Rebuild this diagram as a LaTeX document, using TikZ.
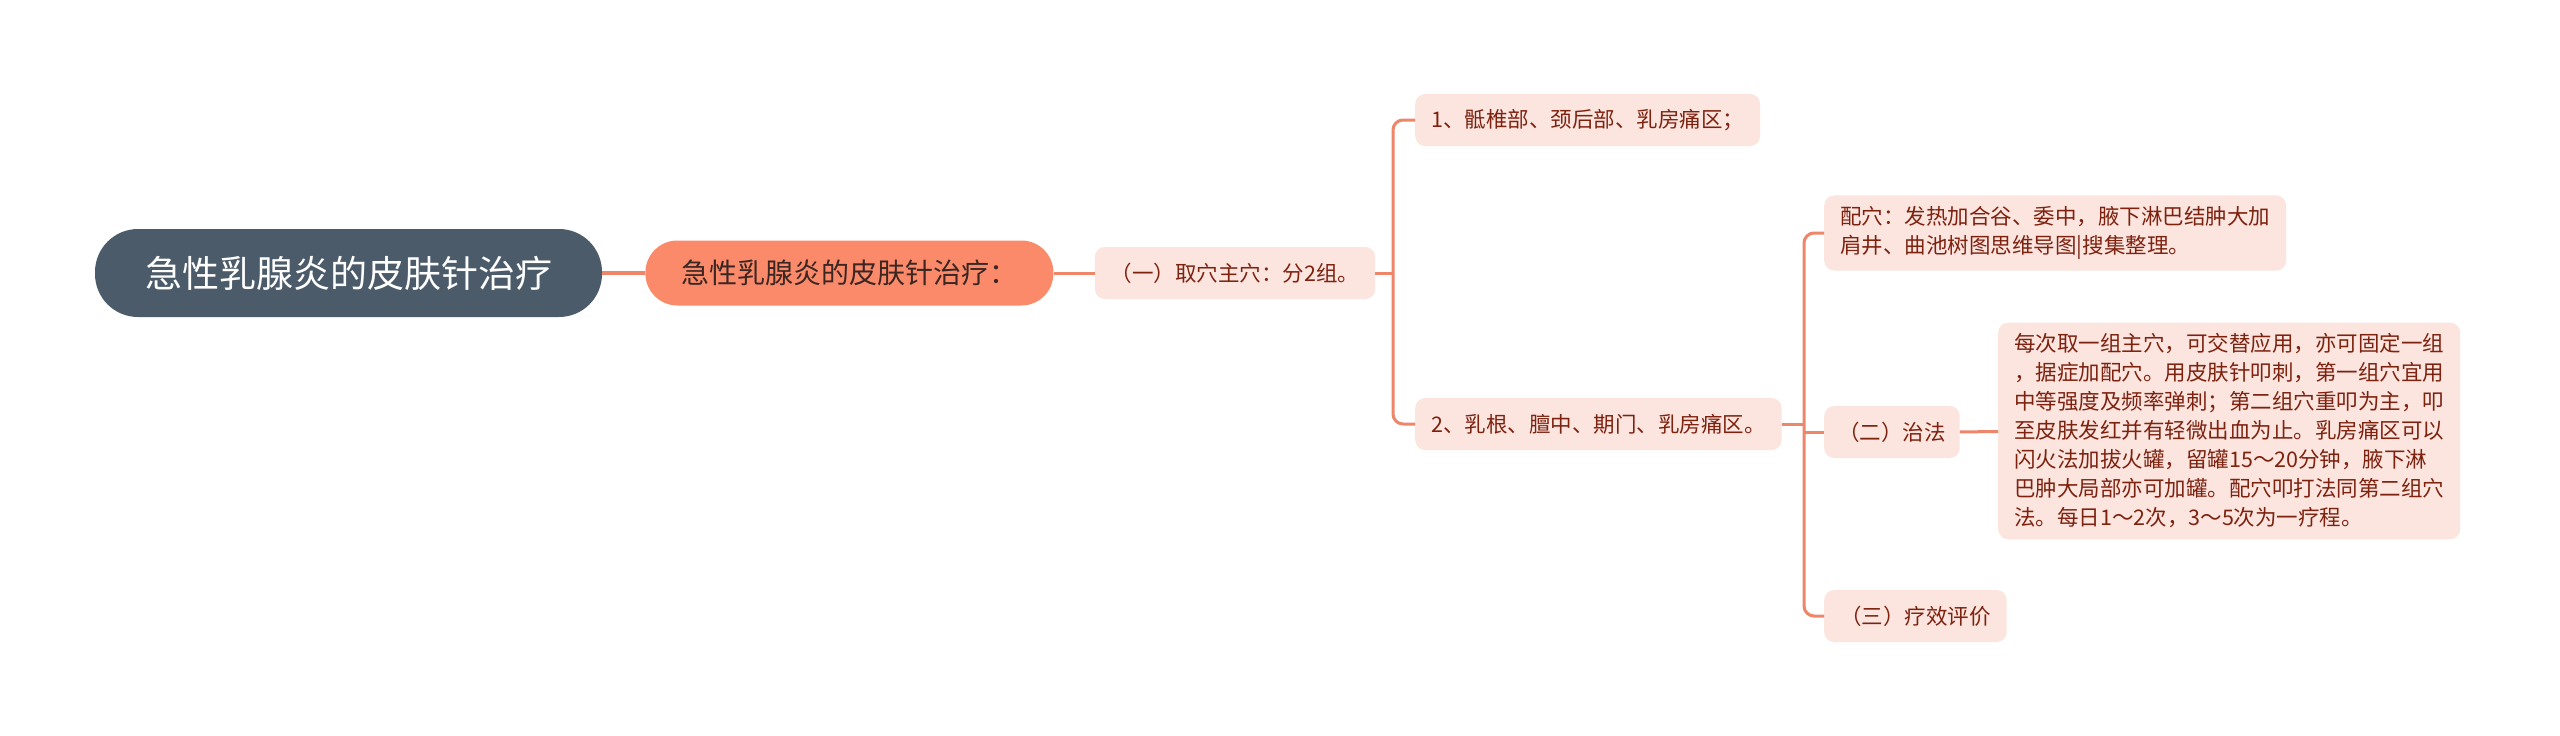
\documentclass[tikz,border=0pt]{standalone}
\usepackage{fontspec}
\setmainfont{Noto Sans CJK SC}
\usetikzlibrary{positioning}
\definecolor{rootfill}{HTML}{4B5B6A}
\definecolor{mainfill}{HTML}{FA8A6A}
\definecolor{maintext}{HTML}{3B2622}
\definecolor{leaffill}{HTML}{FCE5DF}
\definecolor{leaftext}{HTML}{7E2210}
\definecolor{linkcolor}{HTML}{EE866A}

\begin{document}
\begin{tikzpicture}[
    x=1pt, y=-1pt,
    every node/.style={inner sep=0pt},
    topic/.style={rounded corners=43pt, fill=rootfill, text=white, minimum width=507pt, minimum height=88pt, font=\fontsize{37}{44}\selectfont},
    main/.style={rounded corners=32pt, fill=mainfill, text=maintext, minimum width=408pt, minimum height=65pt, font=\fontsize{28}{34}\selectfont},
    leaf/.style={rounded corners=10pt, fill=leaffill, text=leaftext, inner xsep=16pt, inner ysep=11pt, minimum height=52pt, align=left, font=\fontsize{21.5}{29}\selectfont},
    link/.style={draw=linkcolor, line width=3pt},
    branch/.style={link, rounded corners=10pt}
]
    \useasboundingbox[fill=white] (0,0) rectangle (2560,736);

    \node[topic] (root) at (348.5,273) {急性乳腺炎的皮肤针治疗};
    \node[main, right=43pt of root] (method) {急性乳腺炎的皮肤针治疗：};
    \node[leaf, right=41pt of method] (mainpts) {（一）取穴主穴：分2组。};

    \node[leaf, anchor=west] (groupone) at (1415,120) {1、骶椎部、颈后部、乳房痛区；};
    \node[leaf, anchor=west] (grouptwo) at (1415,424) {2、乳根、膻中、期门、乳房痛区。};

    \node[leaf, anchor=west] (extrapts) at (1824,233) {配穴：发热加合谷、委中，腋下淋巴结肿大加\\肩井、曲池树图思维导图|搜集整理。};
    \node[leaf, anchor=west, inner xsep=14pt] (therapy) at (1824,432) {（二）治法};
    \node[leaf, anchor=west] (detail) at (1998,431) {每次取一组主穴，可交替应用，亦可固定一组\\，据症加配穴。用皮肤针叩刺，第一组穴宜用\\中等强度及频率弹刺；第二组穴重叩为主，叩\\至皮肤发红并有轻微出血为止。乳房痛区可以\\闪火法加拔火罐，留罐15～20分钟，腋下淋\\巴肿大局部亦可加罐。配穴叩打法同第二组穴\\法。每日1～2次，3～5次为一疗程。};
    \node[leaf, anchor=west] (effect) at (1824,616) {（三）疗效评价};

    \coordinate (forkone) at (1393,273);
    \coordinate (forktwo) at (1804,424);

    \draw[link, line width=3.5pt] (root) -- (method);
    \draw[link] (method) -- (mainpts);
    \draw[link] (mainpts) -- (forkone);
    \draw[branch] (groupone.west) -| (forkone) |- (grouptwo.west);
    \draw[link] (grouptwo) -- (forktwo);
    \draw[branch] (extrapts.west) -| (forktwo) |- (effect.west);
    \draw[link] (therapy.west) -- (therapy.west -| forktwo);
    \draw[link] (therapy) -- (detail);
\end{tikzpicture}
\end{document}
